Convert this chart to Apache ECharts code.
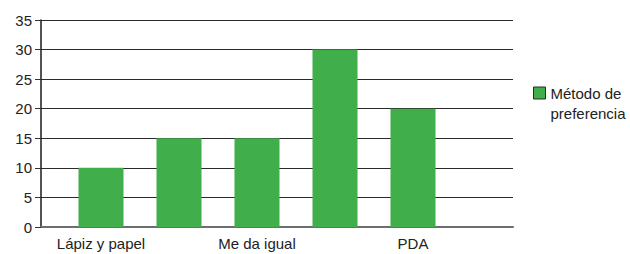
<!DOCTYPE html>
<html>
<head>
<meta charset="utf-8">
<script src="https://cdn.jsdelivr.net/npm/echarts@6/dist/echarts.min.js"></script>
<style>
  html, body { margin: 0; padding: 0; background: #fff; }
  #chart { width: 630px; height: 254px; }
</style>
</head>
<body>
<div id="chart"></div>
<script>
// categories: Excel only printed every other label, the rest stay blank
const categories = ["Lápiz y papel", "", "Me da igual", "", "PDA"];
const values = [10, 15, 15, 30, 20];
const seriesName = "Método de preferencia";
const yTicks = { min: 0, max: 35, interval: 5 };

const GREEN = "#40ae4a";
const FONT = "Liberation Sans, Arial, sans-serif";

const chart = echarts.init(document.getElementById("chart"), null, { renderer: "svg" });

chart.setOption({
  animation: false,
  textStyle: { fontFamily: FONT },
  grid: [
    // frame grid: axis line + gridlines across the full width
    { left: 41, right: 117, top: 20, bottom: 27 },
    // bar grid: narrower band where categories live
    { left: 62, right: 178, top: 20, bottom: 27 },
  ],
  legend: {
    left: 533,
    top: 63,
    padding: 0,
    itemWidth: 12,
    itemHeight: 12,
    itemGap: 0,
    icon: "rect",
    // blank first line keeps the swatch level with "Método de"
    formatter: (name) => "\u00a0\n" + name.replace(" preferencia", "\npreferencia"),
    itemStyle: { borderColor: "#2a2a2a", borderWidth: 1 },
    textStyle: {
      fontFamily: FONT,
      fontSize: 15,
      color: "#222",
      lineHeight: 20,
    },
    data: [seriesName],
  },
  xAxis: [
    {
      gridIndex: 0,
      type: "value",
      min: 0,
      max: 1,
      axisLine: { show: true, lineStyle: { color: "#6e6e6e", width: 2 } },
      axisTick: { show: false },
      axisLabel: { show: false },
      splitLine: { show: false },
    },
    {
      gridIndex: 1,
      type: "category",
      data: categories,
      axisLine: { show: false },
      axisTick: { show: false },
      axisLabel: {
        interval: 0,
        fontSize: 15,
        color: "#222",
        margin: 9,
        fontFamily: FONT,
      },
    },
  ],
  yAxis: [
    {
      gridIndex: 0,
      type: "value",
      min: yTicks.min,
      max: yTicks.max,
      interval: yTicks.interval,
      axisLine: { show: true, lineStyle: { color: "#1a1a1a", width: 1.5 } },
      axisTick: { show: true, length: 6, lineStyle: { color: "#333" } },
      axisLabel: { fontSize: 15, color: "#222", margin: 9, fontFamily: FONT },
      splitLine: { show: true, lineStyle: { color: "#2a2a2a", width: 1 } },
    },
    {
      gridIndex: 1,
      type: "value",
      min: yTicks.min,
      max: yTicks.max,
      interval: yTicks.interval,
      show: false,
      splitLine: { show: false },
    },
  ],
  series: [
    {
      name: seriesName,
      type: "bar",
      xAxisIndex: 1,
      yAxisIndex: 1,
      data: values,
      barWidth: 45,
      itemStyle: { color: GREEN },
      z: 3,
    },
  ],
});
</script>
</body>
</html>
